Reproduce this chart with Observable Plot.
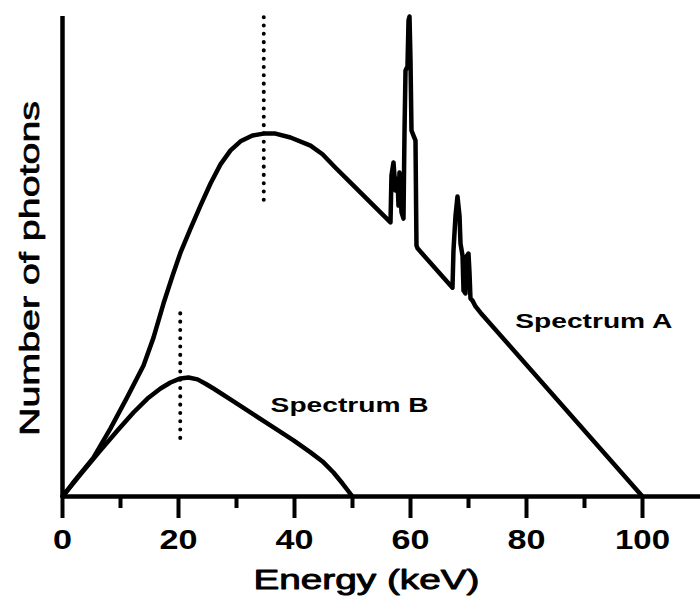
<!DOCTYPE html>
<html><head><meta charset="utf-8">
<script src="https://cdn.jsdelivr.net/npm/d3@7"></script>
<script src="https://cdn.jsdelivr.net/npm/@observablehq/plot@0.6"></script>
<style>body{margin:0;background:#fff}</style>
</head><body><div id="chart"></div>
<script>
// Spectrum A (100 kVp) with characteristic peaks
const energyA = [0,1.72,5.34,8.28,11.21,13.97,15.69,17.41,18.97,20.34,22.07,23.79,25.52,27.24,28.97,30.69,32.76,34.66,36.72,39.31,42.76,44.83,47.07,49.66,56.55,
  56.72,57.07,57.41,57.76,57.93,58.10,58.45,58.79,58.97,59.14,59.48,59.66,59.83,60.0,60.17,60.52,60.86,61.03,61.21,
  67.24,67.41,67.76,68.10,68.45,68.62,68.97,69.14,69.48,69.66,70.0,70.17,70.34,70.69,71.21,72.07,100];
const countsA = [0,2.7,8.1,14.2,20.8,27.3,33.1,40.2,46.0,50.8,55.8,60.6,65.2,69.2,72.1,74.0,75.2,75.6,75.6,74.8,73.1,71.3,68.5,65.4,57.1,
  66.9,69.6,63.75,66.25,60.6,67.5,59.2,57.9,76.25,88.75,89.6,99.2,100,90.8,76.25,75.2,74.2,52.3,51.7,
  43.5,51.25,58.5,62.5,58.5,52.7,50.2,42.9,42.3,50.0,50.6,46.7,41.25,40.8,39.6,38.3,0];
// Spectrum B (50 kVp)
const energyB = [0,3.10,6.55,9.48,12.24,14.66,16.90,18.62,20.34,21.72,23.28,24.66,26.03,29.48,32.93,36.38,39.83,42.76,44.83,46.72,48.28,50];
const countsB = [0,4.6,9.6,13.75,17.5,20.4,22.5,23.75,24.6,24.8,24.4,23.5,22.5,19.8,17.1,14.4,11.7,9.2,7.3,5.0,2.7,0];
// Mean-energy markers (dotted)
const markerEnergy = [34.7, 20.3];
const markerLow = [61.7, 12.1];
const markerHigh = [99.8, 39.2];
// Axis ticks
const majorTicks = [0,20,40,60,80,100];
const minorTicks = [10,30,50,70,90];
// Series labels
const labelText = ["Spectrum A","Spectrum B"];
const labelEnergy = [91.6, 49.5];
const labelCount = [36.5, 19.0];

const specA = energyA.map((e,i)=>({energy:e, count:countsA[i]}));
const specB = energyB.map((e,i)=>({energy:e, count:countsB[i]}));
const markers = markerEnergy.map((e,i)=>({energy:e, lo:markerLow[i], hi:markerHigh[i]}));
const labels = labelText.map((t,i)=>({text:t, energy:labelEnergy[i], count:labelCount[i]}));

const chart = Plot.plot({
  width: 700, height: 601,
  marginLeft: 62, marginRight: 0, marginTop: 16, marginBottom: 105,
  style: {background: "white", fontFamily: "'Liberation Sans', Arial, sans-serif", color: "black"},
  x: {domain: [0, 110], axis: null},
  y: {domain: [0, 100], axis: null},
  marks: [
    Plot.ruleY([0], {stroke: "black", strokeWidth: 4.5}),
    Plot.ruleX([0], {stroke: "black", strokeWidth: 4.5}),
    Plot.axisX(majorTicks, {tickSize: 22, tickPadding: 11, strokeWidth: 4, fontSize: 28, fontWeight: "bold", label: null}),
    Plot.axisX(minorTicks, {tickSize: 12, strokeWidth: 4, tickFormat: () => "", label: null}),
    Plot.ruleX(markers, {x: "energy", y1: "lo", y2: "hi", stroke: "black", strokeWidth: 4, strokeDasharray: "0.1,8.2", strokeLinecap: "round"}),
    Plot.line(specB, {x: "energy", y: "count", stroke: "black", strokeWidth: 4.5, strokeLinejoin: "round"}),
    Plot.line(specA, {x: "energy", y: "count", stroke: "black", strokeWidth: 4.5, strokeLinejoin: "round"}),
    Plot.text(labels, {x: "energy", y: "count", text: "text", fontSize: 20, fontWeight: "bold", textAnchor: "middle", lineAnchor: "middle", fill: "black"}),
    Plot.text(["Energy (keV)"], {x: [52.4], frameAnchor: "bottom", dy: 84, fontSize: 27, textAnchor: "middle", lineAnchor: "middle", fill: "black", stroke: "black", strokeWidth: 0.9}),
    Plot.text(["Number of photons"], {frameAnchor: "left", dx: -32, dy: 12, rotate: -90, fontSize: 28, textAnchor: "middle", lineAnchor: "middle", fill: "black", stroke: "black", strokeWidth: 0.7})
  ]
});
document.getElementById("chart").append(chart);

const textWidths = {"0":19,"20":38,"40":38,"60":38,"80":38,"100":55,"Energy (keV)":226,"Number of photons":335,"Spectrum A":157,"Spectrum B":158};
chart.querySelectorAll("text").forEach(t => {
  const w = textWidths[t.textContent.trim()];
  if (w) { t.setAttribute("textLength", w); t.setAttribute("lengthAdjust", "spacingAndGlyphs"); }
});
</script>
</body></html>
